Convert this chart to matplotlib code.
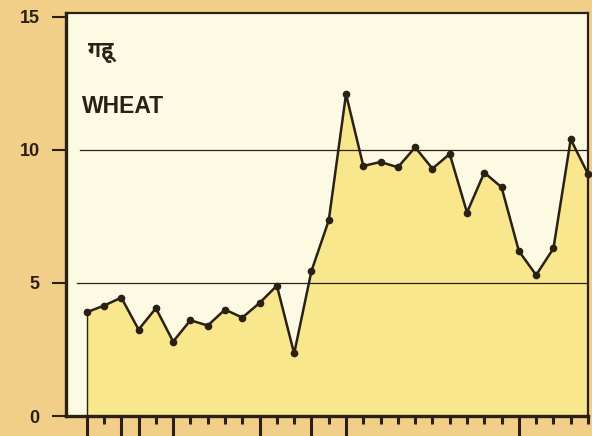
import numpy as np
import matplotlib
matplotlib.use('Agg')
import matplotlib.pyplot as plt
from matplotlib import font_manager
from matplotlib.ft2font import FT2Font

# wheat series (one value per tick)
wheat = [3.9, 4.15, 4.45, 3.25, 4.05, 2.8, 3.6, 3.4, 4.0, 3.7,
         4.25, 4.9, 2.35, 5.45, 7.35, 12.1, 9.4, 9.55, 9.35, 10.1,
         9.3, 9.85, 7.65, 9.15, 8.6, 6.2, 5.3, 6.3, 10.4, 9.1]
long_ticks = [0, 2, 3, 5, 10, 13, 15, 25]
y_ticks = [0, 5, 10, 15]
grid_levels = [5, 10]
grid_start = [0.021, 0.027]
title_hi = 'गहू'
title_en = 'WHEAT'

bg = '#f2cf88'
paper = '#fdfae4'
fill = '#f8e78c'
ink = '#2a2015'

# pick a proportional (ideally bold) font with Devanagari glyphs
best, best_score = None, -99
for path in font_manager.findSystemFonts():
    try:
        if 0x0917 not in FT2Font(path).get_charmap():
            continue
    except Exception:
        continue
    name = path.lower()
    score = 0
    if 'bold' in name:
        score += 2
    if 'mono' in name:
        score -= 5
    if 'sans' in name:
        score += 1
    if 'italic' in name or 'oblique' in name:
        score -= 3
    if score > best_score:
        best, best_score = path, score
if best:
    deva = font_manager.FontProperties(fname=best, size=15.5)
else:
    deva = font_manager.FontProperties(family='DejaVu Sans', weight='bold', size=15)

x = np.arange(len(wheat))

fig = plt.figure(figsize=(5.92, 4.36), dpi=100, facecolor=bg)
ax = fig.add_axes([66/592, 20/436, 522/592, 403/436])
ax.set_facecolor(paper)

ax.fill_between(x, wheat, 0, color=fill, lw=0, zorder=1)
ax.vlines(x[0], 0, wheat[0], color=ink, lw=1.0, zorder=2)
for lev, start in zip(grid_levels, grid_start):
    ax.axhline(lev, xmin=start, xmax=1, color=ink, lw=0.9, zorder=2)
ax.plot(x, wheat, color=ink, lw=1.8, marker='o', ms=4.5, mfc=ink, mec=ink,
        zorder=3, clip_on=False)

ax.set_xlim(-1.2, 28.95)
ax.set_ylim(0, 15.15)

ax.set_yticks(y_ticks)
ax.set_yticklabels([str(v) for v in y_ticks], fontsize=13, fontweight='bold',
                   color=ink, family='Liberation Sans')
ax.tick_params(axis='y', direction='out', length=10, width=1.5, color=ink, pad=9)

short_ticks = [i for i in x if i not in long_ticks]
ax.set_xticks(long_ticks)
ax.set_xticks(short_ticks, minor=True)
ax.set_xticklabels([])
ax.tick_params(axis='x', which='major', direction='out', length=16, width=2.2, color=ink)
ax.tick_params(axis='x', which='minor', direction='out', length=6, width=2.2, color=ink)

for side in ['left', 'bottom', 'top', 'right']:
    ax.spines[side].set_color(ink)
ax.spines['left'].set_linewidth(2.4)
ax.spines['bottom'].set_linewidth(2.4)
ax.spines['top'].set_linewidth(1.6)
ax.spines['right'].set_linewidth(1.6)

ax.text(0.042, 0.891, title_hi, transform=ax.transAxes, fontproperties=deva,
        color=ink, va='baseline', ha='left')
ax.text(0.03, 0.767, title_en, transform=ax.transAxes, fontsize=16.5,
        fontweight='bold', family='Liberation Sans', color=ink,
        va='center', ha='left')

fig.savefig('out.png', dpi=100, facecolor=bg)
